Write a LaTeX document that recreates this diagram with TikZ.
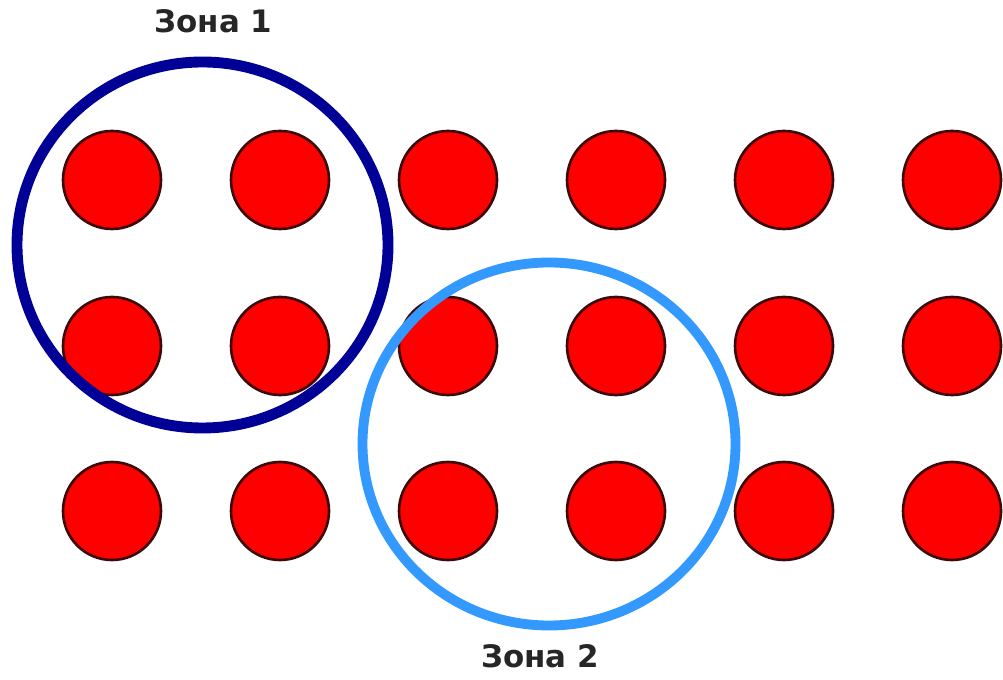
\documentclass[tikz,border=0pt]{standalone}
\usepackage{fontspec}
\setmainfont{DejaVu Sans}
\usepackage{xcolor}
\usepackage{tikz}
\usetikzlibrary{shapes.geometric}
\definecolor{dotred}{RGB}{255,0,0}
\definecolor{dotedge}{RGB}{60,10,10}
\definecolor{zoneone}{RGB}{0,0,150}
\definecolor{zonetwo}{RGB}{51,153,255}

\begin{document}
\begin{tikzpicture}[
  dot/.style={circle,draw=dotedge,fill=dotred,line width=0.75pt,minimum size=0.98cm,inner sep=0pt},
  zone/.style={ellipse,draw,inner sep=0pt},
  zonelabel/.style={anchor=base,font=\bfseries\fontsize{8.8}{10}\selectfont,text=black!85}]
  \useasboundingbox (0,0) rectangle (10.03,6.79);
  % red dots, 3 rows by 6 columns
  \foreach \r/\y in {1/4.99,2/3.33,3/1.68}
    \foreach \c/\x in {1/1.12,2/2.80,3/4.48,4/6.16,5/7.84,6/9.52}
      \node[dot] (dot-\r-\c) at (\x,\y) {};
  % zones
  \node[zone,draw=zoneone,line width=3.1pt,minimum width=3.71cm,minimum height=3.66cm] (zone1) at (2.025,4.34) {};
  \node[zone,draw=zonetwo,line width=2.8pt,minimum width=3.73cm,minimum height=3.63cm] (zone2) at (5.49,2.35) {};
  \node[zonelabel] (label1) at (2.135,6.46) {Зона 1};
  \node[zonelabel] (label2) at (5.40,0.12) {Зона 2};
\end{tikzpicture}
\end{document}
